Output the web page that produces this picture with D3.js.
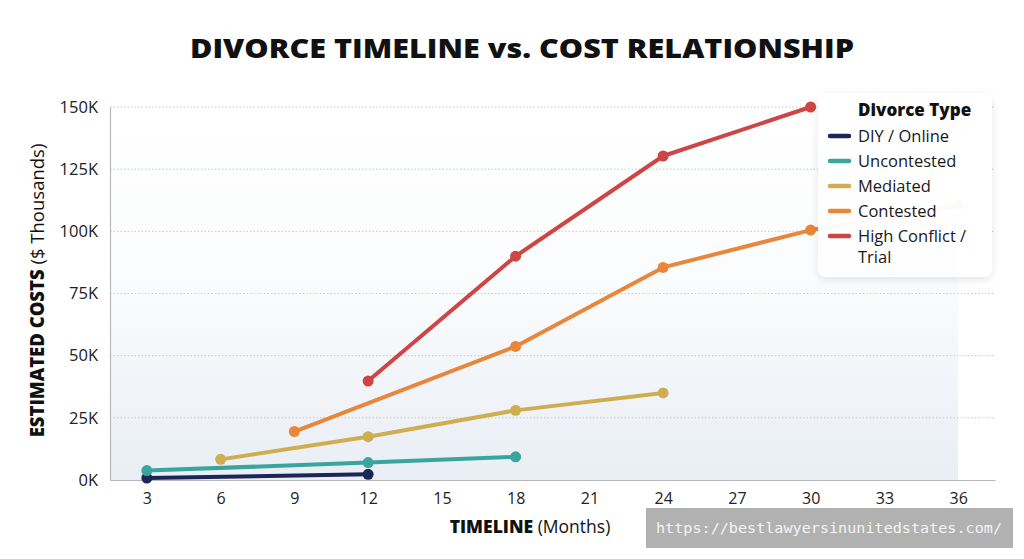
<!DOCTYPE html>
<html>
<head>
<meta charset="utf-8">
<script src="https://cdn.jsdelivr.net/npm/d3@7"></script>
<style>
  body { margin: 0; background: #fff; }
  svg { display: block; font-family: "Open Sans", "Noto Sans", sans-serif; }
</style>
</head>
<body>
<div id="chart"></div>
<script>
// data
const xTicks = [3, 6, 9, 12, 15, 18, 21, 24, 27, 30, 33, 36]
const yTicks = [0, 25, 50, 75, 100, 125, 150]

const seriesNames = ["DIY / Online", "Uncontested", "Mediated", "Contested", "High Conflict / Trial"]
const seriesColors = ["#1b2556", "#3aa59c", "#cfae52", "#e8863a", "#cd4545"]

const diyMonths = [3, 12]
const diyCosts = [0.8, 2.3]
const uncontestedMonths = [3, 12, 18]
const uncontestedCosts = [3.8, 7, 9.3]
const mediatedMonths = [6, 12, 18, 24]
const mediatedCosts = [8.3, 17.4, 28, 35]
const contestedMonths = [9, 18, 24, 30, 36]
const contestedCosts = [19.5, 53.7, 85.5, 100.5, 110.5]
const highConflictMonths = [12, 18, 24, 30]
const highConflictCosts = [39.8, 90, 130.3, 150]

async function drawChart() {

  const series = [
    [diyMonths, diyCosts],
    [uncontestedMonths, uncontestedCosts],
    [mediatedMonths, mediatedCosts],
    [contestedMonths, contestedCosts],
    [highConflictMonths, highConflictCosts]
  ].map(([m, c], i) => ({
    name: seriesNames[i],
    color: seriesColors[i],
    values: m.map((d, j) => ({ month: d, cost: c[j] }))
  }))

  const width = 1024
  const height = 559
  const margin = { top: 107, right: 29, bottom: 79, left: 110 }
  const boundedWidth = width - margin.left - margin.right
  const boundedHeight = height - margin.top - margin.bottom

  const wrapper = d3.select("#chart")
    .append("svg")
      .attr("width", width)
      .attr("height", height)

  const defs = wrapper.append("defs")
  const grad = defs.append("linearGradient")
      .attr("id", "bg")
      .attr("x1", 0).attr("y1", 0).attr("x2", 0).attr("y2", 1)
  grad.append("stop").attr("offset", "0%").attr("stop-color", "#ffffff")
  grad.append("stop").attr("offset", "45%").attr("stop-color", "#fbfcfd")
  grad.append("stop").attr("offset", "100%").attr("stop-color", "#e9eef5")

  const shadow = defs.append("filter")
      .attr("id", "shadow")
      .attr("x", "-20%").attr("y", "-20%").attr("width", "140%").attr("height", "140%")
  shadow.append("feDropShadow")
      .attr("dx", 0).attr("dy", 3)
      .attr("stdDeviation", 4)
      .attr("flood-color", "#000")
      .attr("flood-opacity", 0.1)

  const bounds = wrapper.append("g")
      .attr("transform", `translate(${margin.left},${margin.top})`)

  const xScale = d3.scaleLinear()
      .domain([1.5, 37.5])
      .range([0, boundedWidth])

  const yScale = d3.scaleLinear()
      .domain([0, 150])
      .range([boundedHeight, 0])

  // shaded plot background (stops at the last tick)
  bounds.append("rect")
      .attr("x", 0)
      .attr("y", 0)
      .attr("width", xScale(36))
      .attr("height", boundedHeight)
      .attr("fill", "url(#bg)")

  // gridlines
  bounds.append("g")
    .selectAll("line")
    .data(yTicks.filter(d => d > 0))
    .join("line")
      .attr("x1", 0)
      .attr("x2", boundedWidth)
      .attr("y1", d => yScale(d))
      .attr("y2", d => yScale(d))
      .attr("stroke", "#c8c8c8")
      .attr("stroke-width", 1)
      .attr("stroke-dasharray", "1.5,2")

  // axes
  const yAxis = bounds.append("g")
      .call(d3.axisLeft(yScale).tickValues(yTicks).tickSize(0).tickPadding(12).tickFormat(d => d + "K"))
  yAxis.select(".domain").attr("stroke", "#b8b8b8").attr("stroke-width", 1.2)
  yAxis.selectAll("text")
      .attr("font-size", 16.5)
      .attr("fill", "#222")
      .attr("font-family", "'Open Sans', sans-serif")

  const xAxis = bounds.append("g")
      .attr("transform", `translate(0,${boundedHeight})`)
      .call(d3.axisBottom(xScale).tickValues(xTicks).tickSize(0).tickPadding(13))
  xAxis.select(".domain").attr("stroke", "#b8b8b8").attr("stroke-width", 1.2)
  xAxis.selectAll("text")
      .attr("font-size", 16)
      .attr("fill", "#222")
      .attr("font-family", "'Open Sans', sans-serif")

  // lines + points
  const lineGenerator = d3.line()
      .x(d => xScale(d.month))
      .y(d => yScale(d.cost))

  const groups = bounds.selectAll(".series")
    .data(series)
    .join("g")
      .attr("class", "series")

  groups.append("path")
      .attr("d", d => lineGenerator(d.values))
      .attr("fill", "none")
      .attr("stroke", d => d.color)
      .attr("stroke-width", 4)
      .attr("stroke-linecap", "round")
      .attr("stroke-linejoin", "round")

  groups.selectAll("circle")
    .data(d => d.values.map(v => ({ ...v, color: d.color })))
    .join("circle")
      .attr("cx", d => xScale(d.month))
      .attr("cy", d => yScale(d.cost))
      .attr("r", 5.5)
      .attr("fill", d => d.color)

  // title
  wrapper.append("text")
      .attr("x", 522)
      .attr("y", 58)
      .attr("text-anchor", "middle")
      .attr("font-size", 26)
      .attr("font-weight", 800)
      .attr("fill", "#111")
      .attr("textLength", 664)
      .attr("lengthAdjust", "spacingAndGlyphs")
      .text("DIVORCE TIMELINE vs. COST RELATIONSHIP")

  // axis titles
  const yTitle = wrapper.append("text")
      .attr("transform", `translate(44,${margin.top + boundedHeight / 2 - 3}) rotate(-90)`)
      .attr("text-anchor", "middle")
      .attr("font-size", 18.5)
      .attr("fill", "#111")
  yTitle.append("tspan").attr("font-weight", 800).text("ESTIMATED COSTS")
  yTitle.append("tspan").text(" ($ Thousands)")

  const xTitle = wrapper.append("text")
      .attr("x", 530)
      .attr("y", 533)
      .attr("text-anchor", "middle")
      .attr("font-size", 17.5)
      .attr("fill", "#111")
  xTitle.append("tspan").attr("font-weight", 800).text("TIMELINE")
  xTitle.append("tspan").text(" (Months)")

  // legend
  const legend = wrapper.append("g")
      .attr("transform", "translate(818,93)")

  legend.append("rect")
      .attr("width", 174)
      .attr("height", 184)
      .attr("rx", 8)
      .attr("fill", "#fff")
      .attr("fill-opacity", 0.96)
      .attr("filter", "url(#shadow)")

  legend.append("text")
      .attr("x", 40)
      .attr("y", 23)
      .attr("font-size", 17)
      .attr("font-weight", 800)
      .attr("fill", "#111")
      .text("Divorce Type")

  const legendRows = [0, 1, 2, 3, 4].map(i => 43 + i * 25)
  const items = legend.selectAll(".item")
    .data(series)
    .join("g")
      .attr("class", "item")
      .attr("transform", (d, i) => `translate(0,${legendRows[i]})`)

  items.append("line")
      .attr("x1", 12).attr("x2", 31)
      .attr("y1", 0).attr("y2", 0)
      .attr("stroke", d => d.color)
      .attr("stroke-width", 4.5)
      .attr("stroke-linecap", "round")

  // wrapped label drawn as two separate texts so their boxes do not overlap
  items.each(function(d) {
    const g = d3.select(this)
    const lines = d.name === "High Conflict / Trial" ? ["High Conflict /", "Trial"] : [d.name]
    lines.forEach((l, k) => {
      g.append("text")
          .attr("x", 40)
          .attr("y", 6 + k * 21)
          .attr("font-size", 16.5)
          .attr("fill", "#1a1a1a")
          .text(l)
    })
  })

  // watermark
  const wm = wrapper.append("g")
  wm.append("rect")
      .attr("x", 646)
      .attr("y", 508)
      .attr("width", 367)
      .attr("height", 40)
      .attr("fill", "#b1b1b1")
  wm.append("text")
      .attr("x", 829)
      .attr("y", 533)
      .attr("text-anchor", "middle")
      .attr("font-family", "'DejaVu Sans Mono', 'Liberation Mono', monospace")
      .attr("font-size", 14)
      .attr("fill", "#f4f4f4")
      .attr("textLength", 346)
      .attr("lengthAdjust", "spacingAndGlyphs")
      .text("https://bestlawyersinunitedstates.com/")
}

drawChart()
</script>
</body>
</html>
